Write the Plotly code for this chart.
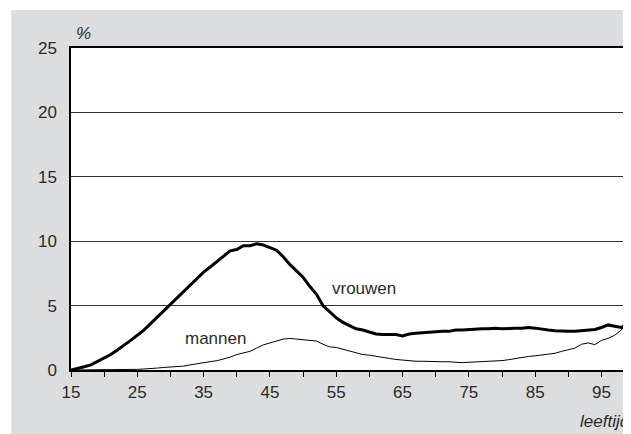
import plotly.graph_objects as go

ages = list(range(15, 100))

vrouwen = [
    0.0, 0.1, 0.25, 0.4, 0.65, 0.9, 1.2, 1.55, 1.9, 2.3,          # 15-24
    2.7, 3.1, 3.6, 4.1, 4.6, 5.1, 5.6, 6.1, 6.6, 7.1,             # 25-34
    7.6, 8.0, 8.4, 8.8, 9.25, 9.35, 9.65, 9.65, 9.8, 9.7,         # 35-44
    9.5, 9.3, 8.8, 8.2, 7.7, 7.2, 6.5, 5.9, 5.0, 4.5,             # 45-54
    4.05, 3.7, 3.45, 3.2, 3.1, 2.95, 2.8, 2.75, 2.75, 2.75,       # 55-64
    2.65, 2.8, 2.85, 2.9, 2.95, 2.95, 3.0, 3.0, 3.1, 3.1,         # 65-74
    3.15, 3.2, 3.2, 3.2, 3.25, 3.2, 3.25, 3.25, 3.25, 3.3,        # 75-84
    3.25, 3.15, 3.1, 3.05, 3.0, 3.0, 3.0, 3.05, 3.1, 3.15,        # 85-94
    3.3, 3.5, 3.4, 3.3, 3.6,                                       # 95-99
]

mannen = [
    0.0, 0.0, 0.0, 0.0, 0.0, 0.0, 0.0, 0.0, 0.0, 0.02,            # 15-24
    0.05, 0.08, 0.1, 0.15, 0.2, 0.22, 0.27, 0.3, 0.4, 0.5,        # 25-34
    0.6, 0.65, 0.72, 0.85, 1.0, 1.2, 1.35, 1.45, 1.7, 1.95,       # 35-44
    2.1, 2.25, 2.4, 2.45, 2.4, 2.35, 2.3, 2.25, 2.0, 1.8,         # 45-54
    1.75, 1.6, 1.5, 1.35, 1.2, 1.15, 1.05, 1.0, 0.9, 0.82,        # 55-64
    0.77, 0.72, 0.68, 0.68, 0.65, 0.65, 0.64, 0.64, 0.6, 0.57,    # 65-74
    0.6, 0.62, 0.65, 0.67, 0.7, 0.73, 0.8, 0.9, 1.0, 1.05,        # 75-84
    1.1, 1.18, 1.22, 1.3, 1.45, 1.6, 1.7, 2.0, 2.1, 1.97,         # 85-94
    2.3, 2.45, 2.7, 3.1, 3.7,                                      # 95-99
]

x_ticks = list(range(15, 100, 5))
x_tick_labels = [str(v) if (v - 15) % 10 == 0 else "" for v in x_ticks]
y_ticks = [0, 5, 10, 15, 20, 25]
y_tick_labels = [str(v) for v in y_ticks]

FONT = "Liberation Sans, Arial, sans-serif"
TXT = "#2a2a2a"

fig = go.Figure()
fig.add_trace(go.Scatter(x=ages, y=mannen, mode="lines", name="mannen",
                         line=dict(color="#000000", width=1), showlegend=False))
fig.add_trace(go.Scatter(x=ages, y=vrouwen, mode="lines", name="vrouwen",
                         line=dict(color="#000000", width=3), showlegend=False))

fig.update_layout(
    width=623, height=426,
    margin=dict(l=63, r=2, t=40, b=64),
    paper_bgcolor="#ffffff",
    plot_bgcolor="rgba(0,0,0,0)",
    font=dict(family=FONT, size=17, color=TXT),
    shapes=[
        dict(type="rect", xref="paper", yref="paper", x0=-0.1075, x1=1.01,
             y0=-0.2, y1=1.118, fillcolor="#dcdddf", line=dict(width=0), layer="below"),
        dict(type="rect", xref="paper", yref="paper", x0=0, x1=1, y0=0, y1=1,
             fillcolor="#ffffff", line=dict(width=0), layer="below"),
    ],
    xaxis=dict(
        range=[15, 98.85], tickmode="array", tickvals=x_ticks, ticktext=x_tick_labels,
        ticks="outside", ticklen=5, tickcolor="#000000", tickwidth=1,
        showline=True, linecolor="#000000", linewidth=1.5, mirror=True,
        showgrid=False, zeroline=False, ticklabelstandoff=1,
        tickfont=dict(family=FONT, size=17, color=TXT),
    ),
    yaxis=dict(
        range=[0, 25], tickmode="array", tickvals=y_ticks, ticktext=y_tick_labels,
        ticks="", showline=True, linecolor="#000000", linewidth=1.5, mirror=True,
        showgrid=True, gridcolor="#333333", gridwidth=1, zeroline=False,
        ticklabelstandoff=9,
        tickfont=dict(family=FONT, size=17, color=TXT),
    ),
    annotations=[
        dict(text="%", xref="paper", yref="paper", x=0.005, y=1.01, xanchor="left",
             yanchor="bottom", showarrow=False, font=dict(size=17, color=TXT, style="italic")),
        dict(text="leeftijd", xref="paper", yref="paper", x=(572 - 63) / 558, y=-0.16,
             xanchor="left", yanchor="middle", showarrow=False,
             font=dict(size=17, color=TXT, style="italic")),
        dict(text="vrouwen", x=54.1, y=6.3, xanchor="left", yanchor="middle",
             showarrow=False, font=dict(size=17, color=TXT)),
        dict(text="mannen", x=31.9, y=2.45, xanchor="left", yanchor="middle",
             showarrow=False, font=dict(size=17, color=TXT)),
    ],
)

fig.write_html("out.html")
